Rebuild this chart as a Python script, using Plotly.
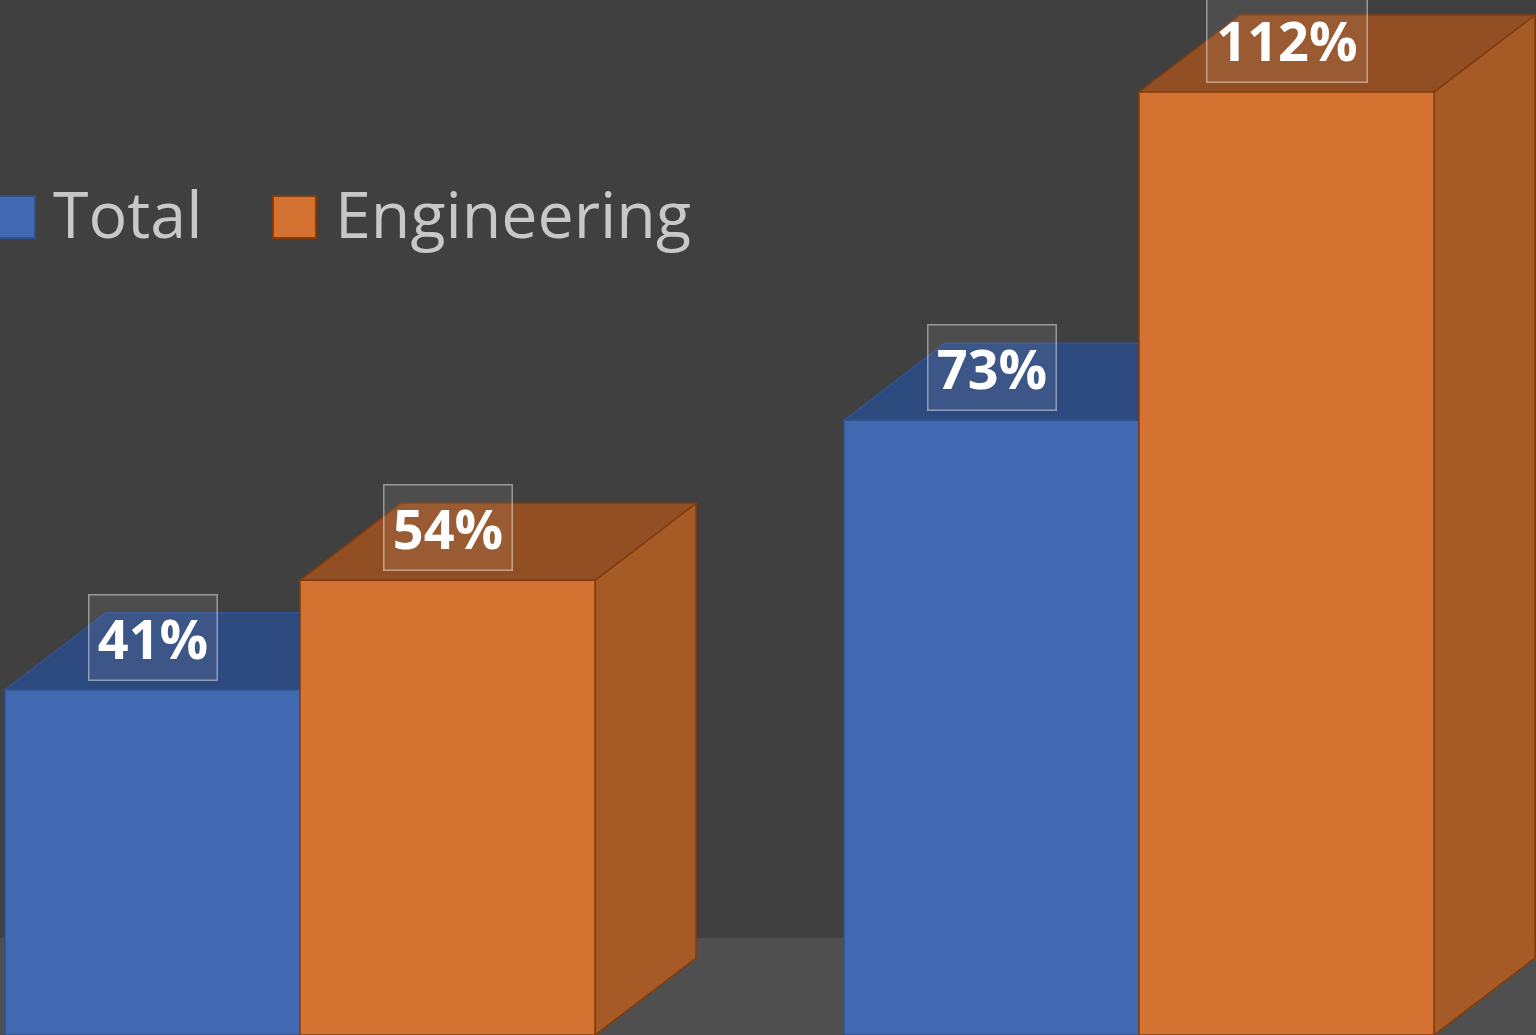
import plotly.graph_objects as go

categories = [0, 1]
series_names = ["Total", "Engineering"]
total_values = [41, 73]
engineering_values = [54, 112]
label_texts_total = ["41%", "73%"]
label_texts_eng = ["54%", "112%"]

series_values = [total_values, engineering_values]
series_labels = [label_texts_total, label_texts_eng]

front_colors = ["#4069B1", "#D37231"]
top_colors = ["#2D4A7E", "#934F24"]
side_colors = ["#2B4878", "#A65A26"]
edge_colors = ["#2F528F", "#843C0C"]

BG = "#404040"
FLOOR = "#4F4F4F"

bar_w = 0.3516
bargap = 1 - 2 * bar_w
dx = 0.1204          # depth offset (x units)
dy = 9.145           # depth offset (y units)
floor_depth = 11.52

fig = go.Figure()
for i, name in enumerate(series_names):
    fig.add_trace(go.Bar(
        x=categories, y=series_values[i], name=name,
        marker=dict(color=front_colors[i], line=dict(color=edge_colors[i], width=1.5)),
        showlegend=False, hoverinfo="skip",
    ))

shapes = []
# floor
shapes.append(dict(type="rect", xref="paper", yref="y", x0=0, x1=1, y0=0, y1=floor_depth,
                   fillcolor=FLOOR, line=dict(width=0), layer="below"))

for c_i, c in enumerate(categories):
    for s in range(2):
        v = series_values[s][c_i]
        x0 = c - bar_w + s * bar_w
        x1 = x0 + bar_w
        top = (f"M {x0},{v} L {x1},{v} L {x1+dx},{v+dy} L {x0+dx},{v+dy} Z")
        side = (f"M {x1},{v} L {x1+dx},{v+dy} L {x1+dx},{dy} L {x1},0 Z")
        shapes.append(dict(type="path", path=side, xref="x", yref="y",
                           fillcolor=side_colors[s], line=dict(color=edge_colors[s], width=1.5),
                           layer="below"))
        shapes.append(dict(type="path", path=top, xref="x", yref="y",
                           fillcolor=top_colors[s], line=dict(color=edge_colors[s], width=1.5),
                           layer="below"))

annotations = []
for c_i, c in enumerate(categories):
    for s in range(2):
        v = series_values[s][c_i]
        xc = c - bar_w / 2 + s * bar_w
        txt = series_labels[s][c_i]
        annotations.append(dict(
            x=xc, y=v, xref="x", yref="y", text=f"<b>{txt}</b>",
            showarrow=False, xanchor="center", yanchor="bottom", yshift=9,
            width=117 if len(txt) <= 3 else 149, align="center",
            font=dict(family="Open Sans", size=54, color="#FFFFFF"),
            bgcolor="rgba(255,255,255,0.07)", bordercolor="rgba(255,255,255,0.45)",
            borderwidth=1.5, borderpad=5,
        ))

# legend (drawn manually to match large swatches)
legend_swatch_x = [(-0.006, 0.0228), (0.1777, 0.2057)]
legend_text_x = [0.0335, 0.2165]
for s, name in enumerate(series_names):
    sx0, sx1 = legend_swatch_x[s]
    shapes.append(dict(type="rect", xref="paper", yref="paper", x0=sx0, x1=sx1,
                       y0=0.770, y1=0.8106, fillcolor=front_colors[s],
                       line=dict(color=edge_colors[s], width=2)))
    annotations.append(dict(x=legend_text_x[s], y=0.794, xref="paper", yref="paper",
                            text=name, showarrow=False, xanchor="left", yanchor="middle",
                            font=dict(family="Open Sans", size=64.5, color="#C8C8C8")))

fig.update_layout(
    width=1536, height=1035,
    margin=dict(l=0, r=0, t=0, b=0),
    paper_bgcolor=BG, plot_bgcolor=BG,
    barmode="group", bargap=bargap, bargroupgap=0,
    xaxis=dict(range=[-300 / 839, 1236 / 839], visible=False, fixedrange=True),
    yaxis=dict(range=[0, 122.92], visible=False, fixedrange=True),
    shapes=shapes, annotations=annotations,
)

fig.write_html(
    "out.html",
    config={"displayModeBar": False},
    post_script="document.body.style.margin='0';document.body.style.overflow='hidden';document.body.style.background='#404040';",
)
